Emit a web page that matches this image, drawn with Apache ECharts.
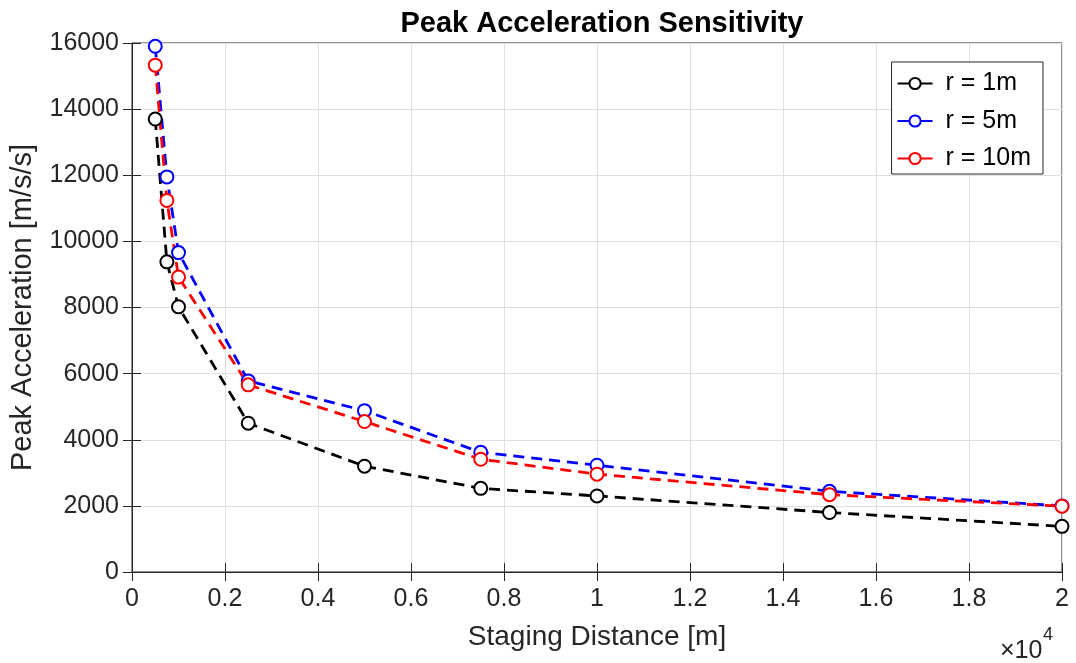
<!DOCTYPE html>
<html>
<head>
<meta charset="utf-8">
<script src="https://cdn.jsdelivr.net/npm/echarts@6/dist/echarts.min.js"></script>
<style>
  html, body { margin: 0; padding: 0; background: #fff; }
  #chart { width: 1076px; height: 663px; }
</style>
</head>
<body>
<div id="chart"></div>
<script>
// staging distance [m]
const distance = [500, 750, 1000, 2500, 5000, 7500, 10000, 15000, 20000];
// peak acceleration [m/s/s] per radius
const accR1 = [13700, 9380, 8020, 4500, 3200, 2530, 2300, 1800, 1380];
const accR5 = [15900, 11950, 9660, 5780, 4880, 3620, 3230, 2440, 2000];
const accR10 = [15330, 11240, 8920, 5660, 4550, 3410, 2960, 2340, 1990];
const seriesNames = ['r = 1m', 'r = 5m', 'r = 10m'];
const seriesColors = ['#000000', '#0000ff', '#ff0000'];

const font = 'Liberation Sans, Arial, Helvetica, sans-serif';
const axisColor = '#262626';

const pairs = (ys) => distance.map((x, i) => [x, ys[i]]);

function lineSeries(name, ys, color) {
  return {
    name,
    type: 'line',
    data: pairs(ys),
    symbol: 'emptyCircle',
    symbolSize: 13,
    showAllSymbol: true,
    lineStyle: { color, width: 2.8, type: [11, 7] },
    itemStyle: { color, borderColor: color, borderWidth: 2.5 },
    emphasis: { disabled: true },
    animation: false
  };
}

const chart = echarts.init(document.getElementById('chart'), null, { renderer: 'canvas' });

const tickStyle = { show: true, inside: true, length: 9, lineStyle: { color: axisColor, width: 1 } };
const labelStyle = { color: axisColor, fontSize: 25, fontFamily: font };

chart.setOption({
  backgroundColor: '#ffffff',
  animation: false,
  title: {
    text: 'Peak Acceleration Sensitivity',
    left: 597,
    top: 4,
    textAlign: 'center',
    textStyle: { fontSize: 29, fontWeight: 'bold', color: '#000', fontFamily: font }
  },
  legend: {
    orient: 'vertical',
    right: 33,
    top: 62,
    data: seriesNames,
    itemWidth: 35,
    itemHeight: 14,
    itemGap: 12.5,
    padding: [9, 12, 3, 5],
    backgroundColor: '#fff',
    borderColor: axisColor,
    borderWidth: 1,
    borderRadius: 0,
    lineStyle: { type: 'solid' },
    textStyle: { fontSize: 25, color: '#000', fontFamily: font, padding: [0, 0, 0, 8] }
  },
  grid: {
    left: 131,
    right: 14,
    top: 43,
    bottom: 91,
    show: true,
    borderColor: axisColor,
    borderWidth: 1
  },
  xAxis: [{
    type: 'value',
    min: 0,
    max: 20000,
    interval: 2000,
    name: 'Staging Distance [m]',
    nameLocation: 'middle',
    nameGap: 51,
    nameTextStyle: { fontSize: 28, color: axisColor, fontFamily: font },
    axisLine: { show: true, lineStyle: { color: axisColor } },
    axisTick: tickStyle,
    axisLabel: Object.assign({ margin: 15, formatter: v => String(+(v / 10000).toFixed(1)) }, labelStyle),
    splitLine: { show: true, lineStyle: { color: '#e0e0e0', width: 1 } }
  }, {
    type: 'value',
    position: 'top',
    min: 0,
    max: 20000,
    interval: 2000,
    axisLine: { show: false },
    axisTick: tickStyle,
    axisLabel: { show: false },
    splitLine: { show: false }
  }],
  yAxis: [{
    type: 'value',
    min: 0,
    max: 16000,
    interval: 2000,
    name: 'Peak Acceleration [m/s/s]',
    nameLocation: 'middle',
    nameGap: 95,
    nameTextStyle: { fontSize: 29, color: axisColor, fontFamily: font },
    axisLine: { show: true, lineStyle: { color: axisColor } },
    axisTick: tickStyle,
    axisLabel: Object.assign({ margin: 13, formatter: v => String(v) }, labelStyle),
    splitLine: { show: true, lineStyle: { color: '#e0e0e0', width: 1 } }
  }, {
    type: 'value',
    position: 'right',
    min: 0,
    max: 16000,
    interval: 2000,
    axisLine: { show: false },
    axisTick: tickStyle,
    axisLabel: { show: false },
    splitLine: { show: false }
  }],
  graphic: [{
    type: 'text',
    left: 1000,
    top: 639,
    style: { text: '×10', fontSize: 25, fill: axisColor, fontFamily: font }
  }, {
    type: 'text',
    left: 1043,
    top: 626,
    style: { text: '4', fontSize: 18, fill: axisColor, fontFamily: font }
  }],
  series: [
    lineSeries(seriesNames[0], accR1, seriesColors[0]),
    lineSeries(seriesNames[1], accR5, seriesColors[1]),
    lineSeries(seriesNames[2], accR10, seriesColors[2])
  ]
});
</script>
</body>
</html>
